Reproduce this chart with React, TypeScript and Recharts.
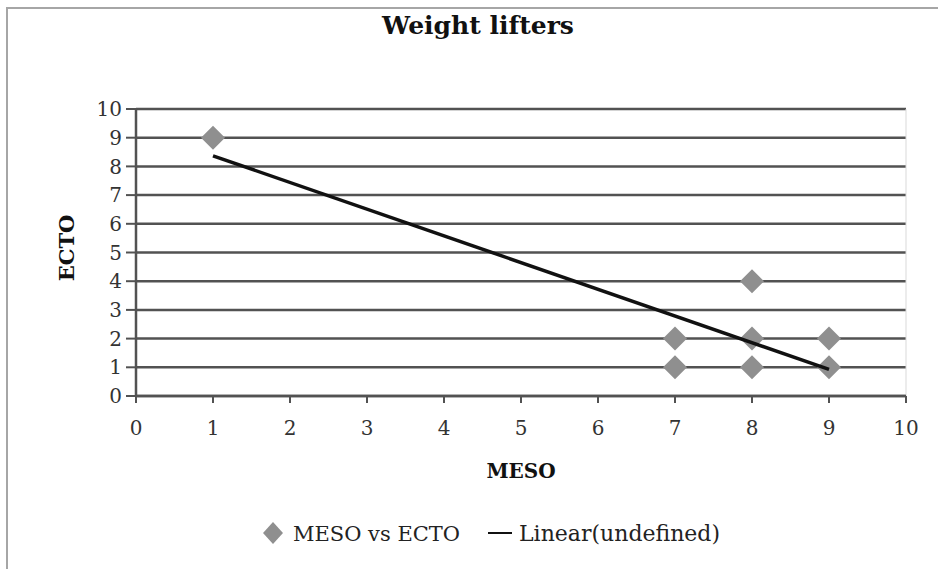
import React from "react";
import { ScatterChart, Scatter, XAxis, YAxis, CartesianGrid, ReferenceLine } from "recharts";

const title = "Weight lifters";
const xLabel = "MESO";
const yLabel = "ECTO";
const mesoValues = [1, 7, 7, 8, 8, 8, 9, 9];
const ectoValues = [9, 2, 1, 4, 2, 1, 2, 1];
const trendMeso = [1, 9];
const trendEcto = [8.37, 0.93];
const xTicks = [0, 1, 2, 3, 4, 5, 6, 7, 8, 9, 10];
const yTicks = [0, 1, 2, 3, 4, 5, 6, 7, 8, 9, 10];
const seriesName = "MESO vs ECTO";
const trendName = "Linear(undefined)";

const points = mesoValues.map((m, i) => ({ x: m, y: ectoValues[i] }));
const trend = trendMeso.map((m, i) => ({ x: m, y: trendEcto[i] }));

const FONT = "'DejaVu Serif', serif";
const GRID = "#525252";
const MARK = "#8f8f8f";

const Diamond = (props: any) => {
  const { cx, cy } = props;
  if (cx == null || cy == null) return <g />;
  const r = 12;
  return (
    <polygon
      points={`${cx},${cy - r} ${cx + r},${cy} ${cx},${cy + r} ${cx - r},${cy}`}
      fill={MARK}
    />
  );
};

const Empty = () => <g />;

export default function App() {
  return (
    <div
      style={{
        position: "absolute",
        left: 0,
        top: 0,
        width: 938,
        height: 569,
        background: "#fff",
        fontFamily: FONT,
        overflow: "hidden",
      }}
    >
      <div
        style={{
          position: "absolute",
          left: 6,
          top: 7,
          width: 940,
          height: 570,
          borderTop: "2px solid #a6a6a6",
          borderLeft: "2px solid #a6a6a6",
        }}
      />
      <div
        style={{
          position: "absolute",
          left: 0,
          top: 14,
          width: 956,
          textAlign: "center",
          fontSize: 25,
          lineHeight: "24px",
          fontWeight: "bold",
          color: "#111",
        }}
      >
        {title}
      </div>
      <div style={{ position: "absolute", left: 0, top: 0 }}>
        <ScatterChart
          width={938}
          height={569}
          margin={{ top: 109, right: 32, bottom: 143, left: 76 }}
        >
          <CartesianGrid horizontal={true} vertical={false} stroke={GRID} strokeWidth={2.5} />
          <XAxis
            type="number"
            dataKey="x"
            domain={[0, 10]}
            ticks={xTicks}
            interval={0}
            height={30}
            axisLine={{ stroke: GRID, strokeWidth: 2.5 }}
            tickLine={{ stroke: GRID, strokeWidth: 2 }}
            tickSize={7}
            tickMargin={18}
            tick={{ fontSize: 20, fill: "#333", fontFamily: FONT }}
            label={{
              content: (p: any) => (
                <text
                  x={521}
                  y={478}
                  textAnchor="middle"
                  fontFamily={FONT}
                  fontWeight="bold"
                  fontSize={20}
                  fill="#111"
                >
                  {xLabel}
                </text>
              ),
            }}
          />
          <YAxis
            type="number"
            dataKey="y"
            domain={[0, 10]}
            ticks={yTicks}
            interval={0}
            width={60}
            axisLine={{ stroke: GRID, strokeWidth: 2.5 }}
            tickLine={{ stroke: GRID, strokeWidth: 2 }}
            tickSize={10}
            tickMargin={4}
            tick={{ fontSize: 20, fill: "#333", fontFamily: FONT }}
            label={{
              content: (p: any) => (
                <text
                  x={74}
                  y={248}
                  textAnchor="middle"
                  transform="rotate(-90 74 248)"
                  fontFamily={FONT}
                  fontWeight="bold"
                  fontSize={21}
                  fill="#111"
                >
                  {yLabel}
                </text>
              ),
            }}
          />
          <ReferenceLine x={10} stroke="#d9d9d9" strokeWidth={1} />
          <Scatter
            name={seriesName}
            data={points}
            shape={Diamond}
            isAnimationActive={false}
          />
          <Scatter
            name={trendName}
            data={trend}
            line={{ stroke: "#111", strokeWidth: 3.5 }}
            shape={Empty}
            isAnimationActive={false}
          />
        </ScatterChart>
      </div>
      <svg
        width={938}
        height={60}
        style={{ position: "absolute", left: 0, top: 505 }}
      >
        <polygon points="273,17 283,28 273,39 263,28" fill={MARK} />
        <text x={293} y={36} fontFamily={FONT} fontSize={21} fill="#222">
          {seriesName}
        </text>
        <line x1={488} y1={28} x2={512} y2={28} stroke="#111" strokeWidth={2} />
        <text x={519} y={36} fontFamily={FONT} fontSize={22} fill="#222">
          {trendName}
        </text>
      </svg>
    </div>
  );
}
